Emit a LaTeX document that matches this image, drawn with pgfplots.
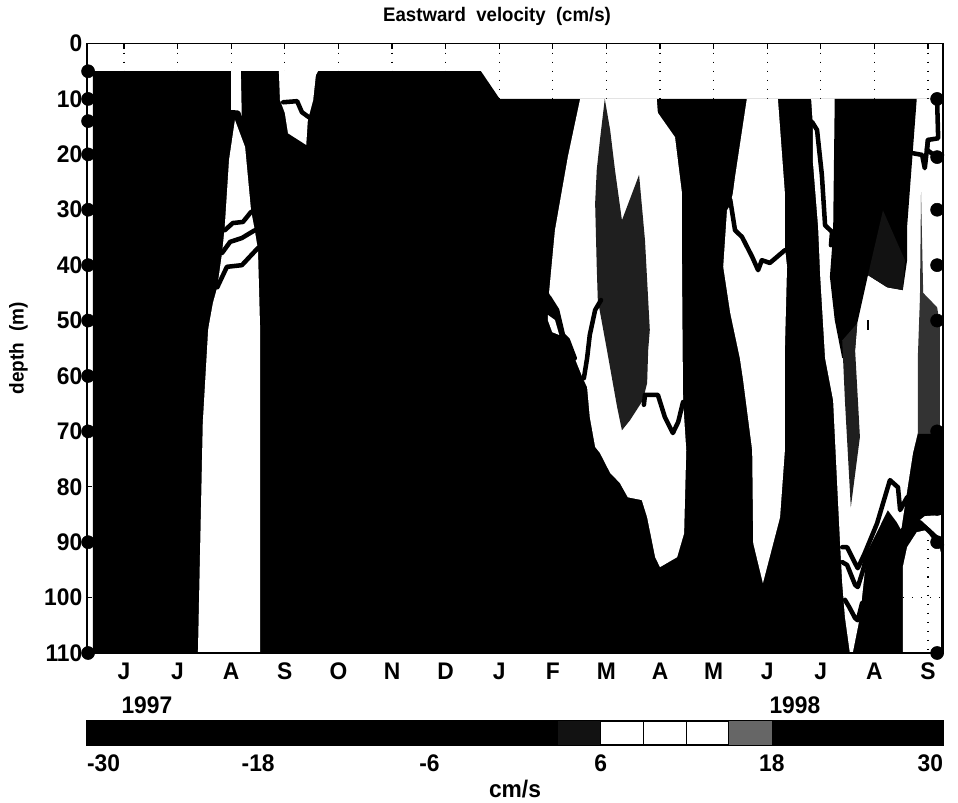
\documentclass[border=0pt]{standalone}
\usepackage{pgfplots}
\pgfplotsset{compat=1.18}
\usepackage{fontspec}
\setmainfont[FakeStretch=0.95]{Liberation Sans}

% x = months since June 1997, y = depth in m
\pgfplotsset{
  patch/.style={draw=none,fill=white},
  dark/.style={draw=none,fill=black!88},
  contour/.style={black,line width=3.4pt,line join=round,line cap=round},
}

\begin{document}
\begin{tikzpicture}
\useasboundingbox (0,0) rectangle (718.5pt,602.25pt);
\begin{axis}[
  at={(65.25pt,112.5pt)},anchor=south west,
  scale only axis,width=642pt,height=457.1pt,
  xmin=-0.69,xmax=15.28,ymin=0,ymax=110,y dir=reverse,
  clip=false,
  font=\bfseries\fontsize{18}{20}\selectfont,
  /pgf/number format/assume math mode=true,
  xtick={0,...,15},
  xticklabels={J,J,A,S,O,N,D,J,F,M,A,M,J,J,A,S},
  ytick={0,10,...,110},
  xticklabel style={yshift=-4pt},
  tick align=inside,
  major tick length=4pt,
  axis line style={line width=1pt},
  tick style={black,line width=0.8pt},
  xmajorgrids=true,
  grid style={black,line width=0.8pt,dash pattern=on 0.8pt off 6pt},
  title={Eastward~~velocity~~(cm/s)},
  title style={at={(axis description cs:0.479,1.044)},anchor=center,yshift=-6pt,font=\bfseries\fontsize{14.7}{17}\selectfont},
  ylabel={depth~~(m)},
  ylabel style={at={(axis description cs:-0.08,0.5)},anchor=center,rotate=0,font=\bfseries\fontsize{15}{17}\selectfont},
]
% black field
\addplot[draw=none,fill=black] coordinates {
  (-0.58,5)(6.66,5)(7.01,10)(15.26,10)(15.26,110)(-0.58,110)};
% white areas
\addplot[patch] coordinates {
  (2.00,5)(2.18,5)(2.20,14.2)(2.16,12.9)(2.01,12.4)(2.00,12.4)};
\addplot[patch] coordinates {
  (2.07,13.8)(2.26,18.7)(2.37,30.1)(2.44,33.7)(2.50,37.3)(2.54,51.7)(2.54,109.8)
  (1.38,109.8)(1.47,68.5)(1.57,51.7)(1.59,50.5)(1.66,46.8)(1.74,44)(1.83,37.8)(1.88,33.1)(1.96,21)};
\addplot[patch] coordinates {
  (2.89,5)(2.91,10.2)(3.00,12.5)(3.06,16.2)(3.40,18.3)(3.43,13.8)(3.53,10.2)(3.58,5.7)(3.62,5)};
\addplot[patch] coordinates {
  (8.51,10)(8.28,20.5)(8.04,33.7)(7.93,45)(8.08,48.1)(8.19,52.6)(8.28,53.5)(8.41,56.8)(8.56,60.4)
  (8.64,62)(8.69,67.4)(8.79,72.8)(8.88,73.9)(9.07,77.5)(9.25,79.3)(9.40,81.9)(9.66,82.4)(9.76,85.5)
  (9.91,92.7)(10.0,94.5)(10.32,92.7)(10.45,88.4)(10.49,73.4)(10.43,64.4)(10.41,39.1)(10.41,27)
  (10.28,16.9)(9.96,12.5)(9.94,10)};
\addplot[patch] coordinates {(7.91,49)(8.04,49.9)(8.12,52.6)(7.99,52.1)(7.91,50)};
\addplot[patch] coordinates {
  (11.62,10)(11.40,24.1)(11.36,27)(11.31,29.2)(11.25,30.1)(11.18,40.3)(11.31,48.6)(11.49,56.8)
  (11.55,60.7)(11.72,73.4)(11.74,90.2)(11.92,97.4)(12.24,85.5)(12.33,73.4)(12.33,55.3)(12.37,40.3)
  (12.33,36.7)(12.33,27)(12.20,10)};
\addplot[patch] coordinates {
  (12.82,10)(12.85,14.3)(12.85,21)(12.95,33.1)(12.99,42.1)(13.08,56.8)(13.23,64.4)(13.32,82.4)
  (13.36,90.2)(13.40,97.4)(13.45,103.5)(13.54,109.8)(13.60,109.8)(13.73,103.5)(13.86,91.8)
  (14.25,84.2)(14.42,86.4)(14.50,87.8)(14.57,83.3)(14.72,73.9)(14.81,70.3)(15.26,70.3)(15.26,10)};
\addplot[patch] coordinates {
  (14.53,94.5)(14.61,90.9)(14.79,88.2)(14.98,87.8)(15.22,91)(15.24,91.9)(15.24,109.8)(14.53,109.8)};
\addplot[patch] coordinates {(14.85,86)(14.94,85.3)(15.24,85.1)(15.24,89.3)(15.04,87.5)};
% block in Jul-Aug 1998
\addplot[draw=none,fill=black] coordinates {
  (13.26,10)(14.79,10)(14.61,33.1)(14.61,39.1)(14.53,44.5)(14.24,44)(13.88,41.8)(13.68,50.5)
  (13.64,55.3)(13.40,56.8)(13.26,49.9)(13.17,42.1)(13.23,34.2)};
% dark stippled areas
\addplot[dark] coordinates {
  (8.97,10)(9.07,15.6)(9.16,22.8)(9.29,31.9)(9.61,23.7)(9.72,35.5)(9.81,51.7)(9.78,55.3)(9.76,61.3)
  (9.68,64.4)(9.44,68)(9.29,69.8)(9.20,65.6)(9.01,55.3)(8.84,46.3)(8.82,40.3)(8.79,28.8)(8.82,22.8)(8.88,17.4)};
\addplot[draw=none,fill=black!93] coordinates {(14.16,30.1)(13.88,41.8)(14.24,44)(14.53,44.5)(14.57,39.1)};
\addplot[dark] coordinates {(13.40,53.6)(13.45,64.4)(13.56,83.7)(13.73,71)(13.64,55.3)(13.68,50.5)};
\addplot[draw=none,fill=black!80] coordinates {
  (14.87,26.8)(14.91,45)(15.17,47.6)(15.22,50.5)(15.22,70.4)(14.81,70.4)(14.81,56.8)(14.85,45.8)};
% grid showing through the white box
\addplot[black,line width=0.8pt,dash pattern=on 0.8pt off 6pt] coordinates {(15,88)(15,110)};
\addplot[black,line width=0.8pt,dash pattern=on 0.8pt off 6pt] coordinates {(14.53,100)(15.26,100)};
% contours
\addplot[contour] coordinates {(2.01,12.4)(2.13,12.5)(2.20,14.3)};
\addplot[contour] coordinates {(1.88,33.7)(2.03,32.4)(2.22,32.2)(2.37,30.4)};
\addplot[contour] coordinates {(1.83,37.8)(1.98,35.8)(2.20,35.1)(2.44,33.7)};
\addplot[contour] coordinates {(1.74,44)(1.92,40.3)(2.20,40)(2.50,36.9)};
\addplot[contour] coordinates {(2.97,10.6)(3.23,10.4)(3.32,12.4)(3.45,13.3)};
\addplot[contour] coordinates {(7.93,45.8)(8.08,48.1)(8.19,52.6)(8.28,53.5)(8.41,56.8)};
\addplot[contour] coordinates {(8.90,46.3)(8.79,48.1)(8.69,52.6)(8.64,56.8)(8.58,60.4)};
\addplot[contour] coordinates {(9.70,65.2)(9.72,63.4)(9.96,63.4)(10.09,67.4)(10.24,70.3)(10.34,68.3)(10.43,64.7)};
\addplot[contour] coordinates {(11.31,28.2)(11.40,33.7)(11.53,34.9)(11.72,38.5)(11.83,40.9)(11.90,39.1)(12.05,39.6)(12.33,37.3)};
\addplot[contour] coordinates {(12.84,14.2)(12.93,15.6)(13.02,23.7)(13.08,32.8)(13.21,34)(13.19,36.4)};
\addplot[contour] coordinates {(13.40,90.9)(13.49,90.9)(13.64,93.8)(13.69,94.7)(13.82,92)(14.05,86.6)(14.29,78.8)(14.44,80.1)(14.48,84.2)(14.61,81.9)};
\addplot[contour] coordinates {(13.40,93.6)(13.49,94.1)(13.64,97.7)(13.69,98.1)(13.79,95)(13.88,91.4)};
\addplot[contour] coordinates {(13.45,100.4)(13.53,101.7)(13.64,103.7)(13.69,104.1)(13.77,101)};
\addplot[contour] coordinates {(14.48,88.4)(14.53,87.8)(14.66,87.3)(14.85,86.4)(15.04,88.2)(15.13,89.3)(15.26,90.5)};
\addplot[contour] coordinates {(14.72,19.8)(14.89,20.1)(14.94,22.5)(15,17.4)(15.19,17.1)(15.17,10.2)};
\addplot[contour] coordinates {(15,17.4)(14.98,19.2)(15.17,20.5)(15.26,20.1)};
\addplot[black,line width=1.5pt] coordinates {(13.88,49.9)(13.88,51.7)};
% current meter depths
\addplot[only marks,mark=*,mark size=4.9pt,black] coordinates {
  (-0.67,5)(-0.67,10)(-0.67,14)(-0.67,20)(-0.67,30)(-0.67,40)(-0.67,50)(-0.67,60)(-0.67,70)(-0.67,90)(-0.67,110)};
\addplot[only marks,mark=*,mark size=4.9pt,black] coordinates {
  (15.17,10)(15.17,20.5)(15.17,30)(15.17,40)(15.17,50)(15.17,70)(15.17,84)(15.17,90)(15.17,110)};
\node[anchor=center] at (axis description cs:0.07,-0.085) {1997};
\node[anchor=center] at (axis description cs:0.827,-0.085) {1998};
\end{axis}

% colour bar
\begin{axis}[
  at={(65.25pt,43.5pt)},anchor=south west,
  scale only axis,width=642pt,height=18pt,
  xmin=-30,xmax=30,ymin=0,ymax=1,
  font=\bfseries\fontsize{18}{20}\selectfont,
  /pgf/number format/assume math mode=true,
  xtick={-30,-18,-6,6,18,30},
  xticklabels={\makebox[0pt][l]{-30},-18,-6,6,18,\makebox[0pt][r]{30}},
  xticklabel style={yshift=-4pt},
  ytick=\empty,
  major tick length=0pt,
  axis line style={line width=1pt},
  xlabel={cm/s},
  xlabel style={at={(axis description cs:0.5,-1.83)},anchor=center},
]
\addplot[draw=none,fill=black] coordinates {(-30,0)(3,0)(3,1)(-30,1)};
\addplot[draw=none,fill=black!93] coordinates {(3,0)(6,0)(6,1)(3,1)};
\addplot[draw=black,line width=0.8pt,fill=white] coordinates {(6,0)(9,0)(9,1)(6,1)(6,0)};
\addplot[draw=black,line width=0.8pt,fill=white] coordinates {(9,0)(12,0)(12,1)(9,1)(9,0)};
\addplot[draw=black,line width=0.8pt,fill=white] coordinates {(12,0)(15,0)(15,1)(12,1)(12,0)};
\addplot[draw=none,fill=black!60] coordinates {(15,0)(18,0)(18,1)(15,1)};
\addplot[draw=none,fill=black] coordinates {(18,0)(30,0)(30,1)(18,1)};
\end{axis}
\end{tikzpicture}
\end{document}
